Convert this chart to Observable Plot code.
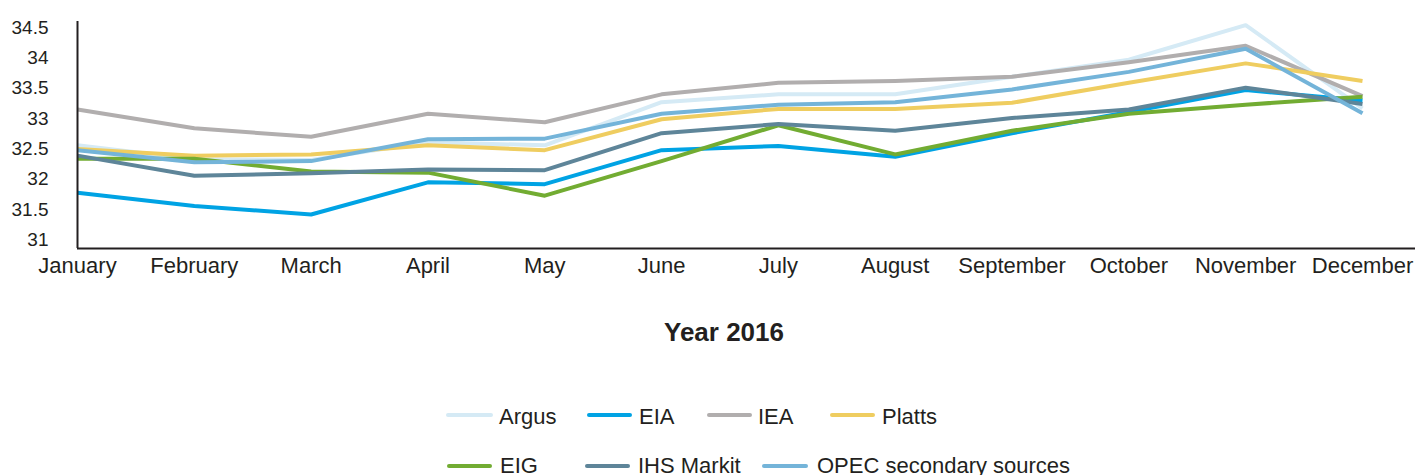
<!DOCTYPE html>
<html>
<head>
<meta charset="utf-8">
<script src="https://cdn.jsdelivr.net/npm/d3@7"></script>
<script src="https://cdn.jsdelivr.net/npm/@observablehq/plot@0.6"></script>
<style>
  html, body { margin: 0; padding: 0; background: #fff; }
  #wrap { position: relative; width: 1415px; height: 475px;
          font-family: "Liberation Sans", Arial, Helvetica, sans-serif; color: #231f20; }
  #chart { position: absolute; left: 0; top: 0; }
  .title { position: absolute; font-weight: bold; font-size: 26px; line-height: 26px;
           white-space: nowrap; transform: translateX(-50%); }
  .sw { position: absolute; height: 4px; border-radius: 2px; }
  .lt { position: absolute; font-size: 22px; line-height: 16px; white-space: nowrap; }
</style>
</head>
<body>
<div id="wrap">
  <div id="chart"></div>
</div>
<script>
// ---- data ----
const months = ["January","February","March","April","May","June","July","August","September","October","November","December"];
const seriesNames = ["Argus","EIA","IEA","Platts","EIG","IHS Markit","OPEC secondary sources"];
const argus  = [32.56, 32.33, 32.32, 32.61, 32.56, 33.27, 33.40, 33.40, 33.69, 33.97, 34.54, 33.17];
const eia    = [31.78, 31.56, 31.42, 31.95, 31.92, 32.48, 32.55, 32.37, 32.76, 33.11, 33.47, 33.30];
const iea    = [33.15, 32.84, 32.70, 33.08, 32.94, 33.40, 33.59, 33.62, 33.69, 33.93, 34.20, 33.37];
const platts = [32.50, 32.39, 32.41, 32.56, 32.48, 32.99, 33.16, 33.16, 33.26, 33.59, 33.91, 33.62];
const eig    = [32.34, 32.34, 32.13, 32.11, 31.73, 32.30, 32.89, 32.41, 32.80, 33.08, 33.23, 33.36];
const ihs    = [32.39, 32.06, 32.10, 32.16, 32.15, 32.76, 32.91, 32.80, 33.01, 33.15, 33.51, 33.24];
const opec   = [32.48, 32.28, 32.30, 32.66, 32.67, 33.08, 33.23, 33.27, 33.48, 33.77, 34.15, 33.09];
const yTicks = [31, 31.5, 32, 32.5, 33, 33.5, 34, 34.5];
const xTitle = "Year 2016";

// ---- build table ----
const seriesValues = [argus, eia, iea, platts, eig, ihs, opec];
const data = seriesNames.flatMap((s, i) =>
  months.map((m, j) => ({series: s, month: m, value: seriesValues[i][j]})));

const palette = ["#d5eaf5", "#00a3e4", "#b1aeae", "#efcd60", "#72ac32", "#5e8599", "#74b4d9"];
const yMin = 30.86, yMax = 34.6;

const chart = Plot.plot({
  width: 1415,
  height: 290,
  marginLeft: 77,
  marginRight: 0,
  marginTop: 21,
  marginBottom: 42,
  style: {fontFamily: '"Liberation Sans", Arial, Helvetica, sans-serif', fontSize: "19px", color: "#231f20", background: "#fff"},
  x: {type: "point", domain: months, range: [77, 1362], padding: 0, round: false, axis: null},
  y: {domain: [yMin, yMax], axis: null},
  color: {domain: seriesNames, range: palette},
  marks: [
    Plot.line(data, {x: "month", y: "value", z: "series", stroke: "series", strokeWidth: 4,
                     strokeLinejoin: "round", strokeLinecap: "butt"}),
    Plot.ruleY([yMin], {stroke: "#231f20", strokeWidth: 2}),
    Plot.ruleX([months[0]], {y1: yMin, y2: yMax, stroke: "#231f20", strokeWidth: 2}),
    Plot.axisY({ticks: yTicks, tickSize: 0, tickPadding: 29, tickFormat: d => String(d),
                label: null, fontSize: 19, fill: "#231f20"}),
    Plot.axisX({tickSize: 0, tickPadding: 9, label: null, fontSize: 22, fill: "#231f20"})
  ]
});
document.getElementById("chart").appendChild(chart);

// ---- title and legend (HTML, below the SVG) ----
const wrap = document.getElementById("wrap");
const t = document.createElement("div");
t.className = "title";
t.textContent = xTitle;
t.style.left = "724px";
t.style.top = "319px";
wrap.appendChild(t);

// legend layout: [swatchLeft, swatchWidth, textLeft, swatchCenterY, textCenterY]
const legendLayout = [
  [446, 47, 499, 415, 416.5], [587, 45, 639, 415, 416.5], [707, 45, 758, 415, 416.5], [830, 45, 882, 415, 416.5],
  [447, 45, 500, 465.5, 465.5], [585, 45, 638, 465.5, 465.5], [762, 46, 817, 465.5, 465.5]
];
seriesNames.forEach((name, i) => {
  const [sx, sw, tx, sy, ty] = legendLayout[i];
  const s = document.createElement("div");
  s.className = "sw";
  s.style.left = sx + "px"; s.style.width = sw + "px"; s.style.top = (sy - 2) + "px";
  s.style.background = palette[i];
  wrap.appendChild(s);
  const l = document.createElement("div");
  l.className = "lt";
  l.textContent = name;
  l.style.left = tx + "px"; l.style.top = (ty - 7.75) + "px";
  wrap.appendChild(l);
});
</script>
</body>
</html>
